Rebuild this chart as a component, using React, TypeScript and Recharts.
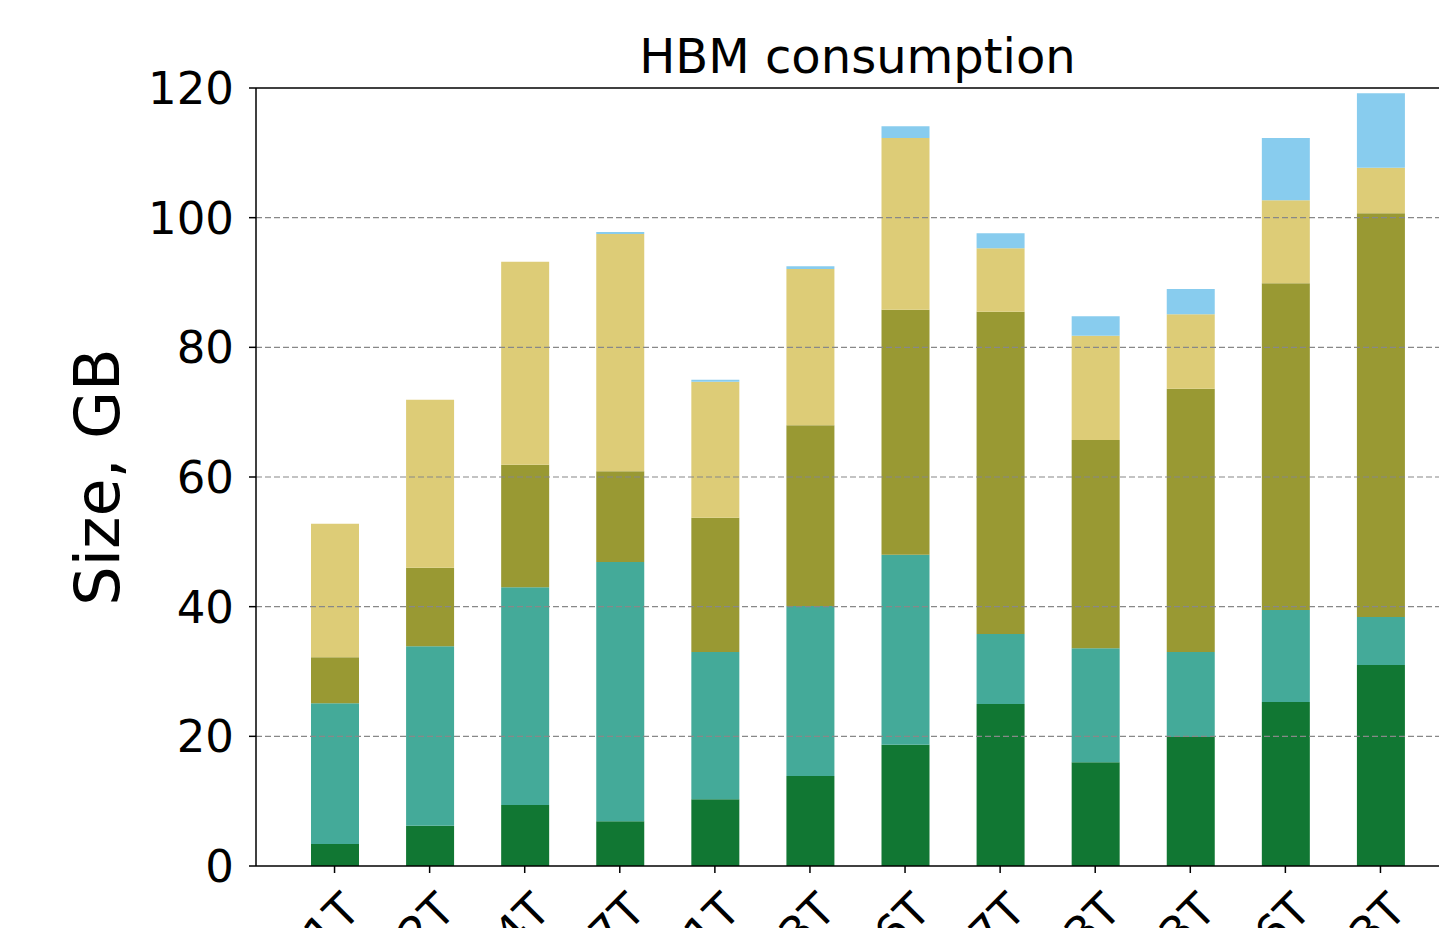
import React from 'react';
import {
  BarChart,
  Bar,
  XAxis,
  YAxis,
  ReferenceLine,
} from 'recharts';

// model size per bar (tick labels)
const models = ['1T', '2T', '4T', '7T', '1T', '3T', '6T', '7T', '3T', '3T', '6T', '3T'];

// stacked HBM usage per component, GB (bottom to top)
const weights = [3.4, 6.2, 9.4, 6.9, 10.3, 13.9, 18.7, 25.0, 16.0, 19.9, 25.3, 31.0];
const gradients = [21.7, 27.7, 33.6, 40.0, 22.7, 26.2, 29.3, 10.8, 17.6, 13.1, 14.2, 7.4];
const optimizer = [7.1, 12.1, 18.9, 14.0, 20.7, 27.9, 37.8, 49.7, 32.1, 40.6, 50.4, 62.3];
const activations = [20.6, 25.9, 31.3, 36.6, 21.0, 24.1, 26.5, 9.8, 16.1, 11.5, 12.8, 7.0];
const buffers = [0, 0, 0, 0.3, 0.3, 0.4, 1.8, 2.3, 3.0, 3.9, 9.6, 11.5];

const yTicks = [0, 20, 40, 60, 80, 100, 120];
const gridLevels = [20, 40, 60, 80, 100];

const data = models.map((name, i) => ({
  name,
  weights: weights[i],
  gradients: gradients[i],
  optimizer: optimizer[i],
  activations: activations[i],
  buffers: buffers[i],
}));

const FONT = '"DejaVu Sans", sans-serif';

// rotated labels hang below the tick, right end aligned to it
const AngledTick = ({ x, y, payload }: any) => (
  <g transform={`translate(${x + 4},${y + 14})`}>
    <text
      transform="rotate(-45)"
      textAnchor="end"
      dy="0.75em"
      fontSize={45}
      fontFamily={FONT}
      fill="#000"
    >
      {payload.value}
    </text>
  </g>
);

const YLabel = ({ viewBox }: any) => {
  const cx = 97;
  const cy = viewBox.y + viewBox.height / 2;
  return (
    <text
      x={cx}
      y={cy}
      transform={`rotate(-90, ${cx}, ${cy})`}
      textAnchor="middle"
      dominantBaseline="central"
      fontSize={62}
      fontFamily={FONT}
      fill="#000"
    >
      Size, GB
    </text>
  );
};

export default function App() {
  return (
    <div
      style={{
        position: 'fixed',
        left: 0,
        top: 0,
        width: 1439,
        height: 928,
        overflow: 'hidden',
        background: '#fff',
      }}
    >
      <div
        style={{
          position: 'absolute',
          left: 256,
          top: 32,
          width: 1203,
          textAlign: 'center',
          fontFamily: FONT,
          fontSize: 48,
          lineHeight: 1,
          color: '#000',
        }}
      >
        HBM consumption
      </div>
      <BarChart
        width={1480}
        height={1000}
        data={data}
        margin={{ top: 88, right: 21, left: 0, bottom: 0 }}
        barSize={48}
      >
        <XAxis
          dataKey="name"
          height={134}
          padding={{ left: 31, right: 31 }}
          tick={<AngledTick />}
          tickSize={7}
          tickLine={{ stroke: '#000', strokeWidth: 1.5 }}
          axisLine={{ stroke: '#000', strokeWidth: 1.5 }}
          interval={0}
        />
        <YAxis
          width={256}
          domain={[0, 120]}
          ticks={yTicks}
          allowDataOverflow
          tickSize={7}
          tickMargin={15}
          tickLine={{ stroke: '#000', strokeWidth: 1.5 }}
          axisLine={{ stroke: '#000', strokeWidth: 1.5 }}
          tick={{ fontSize: 45, fontFamily: FONT, fill: '#000' }}
          label={<YLabel />}
        />
        <Bar dataKey="weights" stackId="hbm" fill="#117733" isAnimationActive={false} />
        <Bar dataKey="gradients" stackId="hbm" fill="#44AA99" isAnimationActive={false} />
        <Bar dataKey="optimizer" stackId="hbm" fill="#999933" isAnimationActive={false} />
        <Bar dataKey="activations" stackId="hbm" fill="#DDCC77" isAnimationActive={false} />
        <Bar dataKey="buffers" stackId="hbm" fill="#88CCEE" isAnimationActive={false} />
        {gridLevels.map(v => (
          <ReferenceLine
            key={v}
            y={v}
            stroke="#888"
            strokeWidth={1.2}
            strokeDasharray="6 3"
          />
        ))}
        <ReferenceLine y={120} stroke="#000" strokeWidth={1.5} />
      </BarChart>
    </div>
  );
}
